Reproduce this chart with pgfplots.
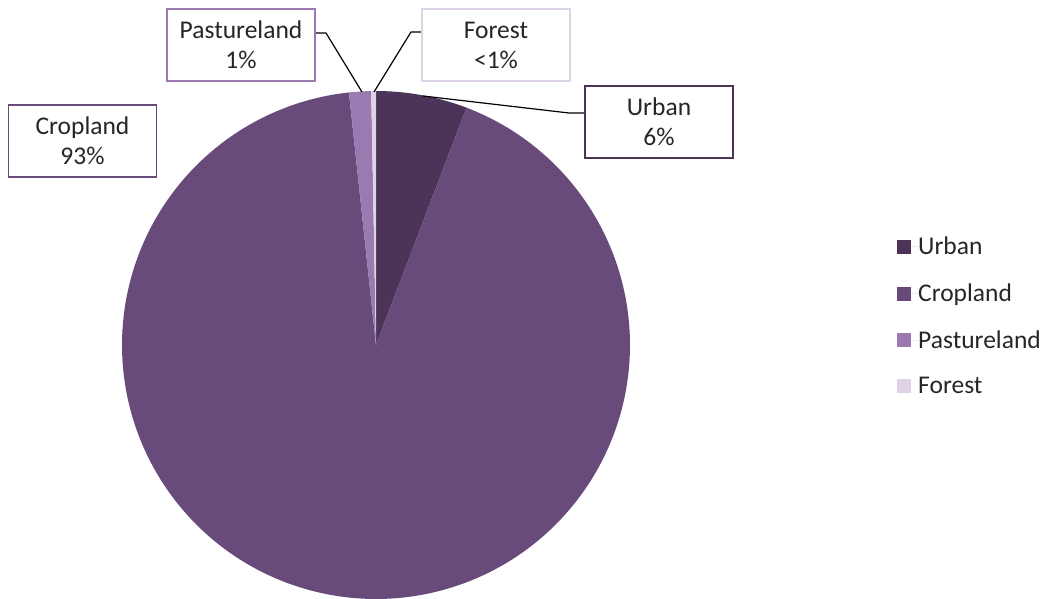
\documentclass[border=0pt]{standalone}
\usepackage{fontspec}
\setmainfont{Carlito}
\usepackage{pgfplots}
\usepackage{pgfplotstable}
\pgfplotsset{compat=1.18}
\definecolor{cU}{HTML}{4B3458}
\definecolor{cC}{HTML}{684B7A}
\definecolor{cP}{HTML}{9B79B1}
\definecolor{cF}{HTML}{DDD2E6}
\definecolor{txt}{HTML}{262626}
\pgfplotstableread{
name value
Urban 5.8
Cropland 92.5
Pastureland 1.4
Forest 0.3
}\piedata
\begin{document}
\begin{tikzpicture}
\path[use as bounding box] (0,0) rectangle (1044pt,598pt);
\pgfplotstablegetelem{0}{value}\of\piedata \let\vA\pgfplotsretval
\pgfplotstablegetelem{1}{value}\of\piedata \let\vB\pgfplotsretval
\pgfplotstablegetelem{2}{value}\of\piedata \let\vC\pgfplotsretval
\pgfplotstablegetelem{3}{value}\of\piedata \let\vD\pgfplotsretval
\pgfmathsetmacro{\aO}{90}
\pgfmathsetmacro{\aA}{\aO-3.6*\vA}
\pgfmathsetmacro{\aB}{\aA-3.6*\vB}
\pgfmathsetmacro{\aC}{\aB-3.6*\vC}
\pgfmathsetmacro{\aD}{\aC-3.6*\vD}
\begin{axis}[hide axis, scale only axis, x=1pt, y=1pt,
  xmin=0, xmax=1044, ymin=0, ymax=598, clip=false,
  legend style={at={(axis cs:897,361)}, anchor=north west, draw=none, fill=none,
    font=\fontsize{25.5}{30}\selectfont, row sep=27.5pt, inner sep=0pt,
    nodes={inner sep=0pt, text=txt}, cells={anchor=west}},
  legend image code/.code={\fill[#1,draw=none] (0pt,-7pt) rectangle (14pt,7pt);\path (0pt,0pt) -- (21pt,0pt);},
  variable=\t]
\addplot[fill=cU, draw=none, domain=\aA:\aO, samples=40] ({376+254*cos(\t)},{253+254*sin(\t)}) -- (axis cs:376,253) -- cycle;
\addlegendentry{Urban}
\addplot[fill=cC, draw=none, domain=\aB:\aA, samples=300] ({376+254*cos(\t)},{253+254*sin(\t)}) -- (axis cs:376,253) -- cycle;
\addlegendentry{Cropland}
\addplot[fill=cP, draw=none, domain=\aC:\aB, samples=10] ({376+254*cos(\t)},{253+254*sin(\t)}) -- (axis cs:376,253) -- cycle;
\addlegendentry{Pastureland}
\addplot[fill=cF, draw=none, domain=\aD:\aC, samples=5] ({376+254*cos(\t)},{253+254*sin(\t)}) -- (axis cs:376,253) -- cycle;
\addlegendentry{Forest}
% leader lines
\draw[black, line width=1.2pt] (axis cs:315,565) -- (axis cs:326,565) -- (axis cs:362,506);
\draw[black, line width=1.2pt] (axis cs:422,566) -- (axis cs:411,566) -- (axis cs:374,506);
\draw[black, line width=1.2pt] (axis cs:585,485) -- (axis cs:569,485) -- (axis cs:423,502);
% labels
\tikzset{lbl/.style={line width=1.5pt, fill=white, minimum width=148pt, minimum height=72pt, align=center, text=txt, inner sep=0pt, font=\fontsize{25.5}{30}\selectfont}}
\node[lbl, draw=cP] at (axis cs:241,553) {Pastureland\\1\%};
\node[lbl, draw=cF] at (axis cs:496,553) {Forest\\<1\%};
\node[lbl, draw=cU] at (axis cs:659,476) {Urban\\6\%};
\node[lbl, draw=cC] at (axis cs:82.5,457) {Cropland\\93\%};
\end{axis}
\end{tikzpicture}
\end{document}
